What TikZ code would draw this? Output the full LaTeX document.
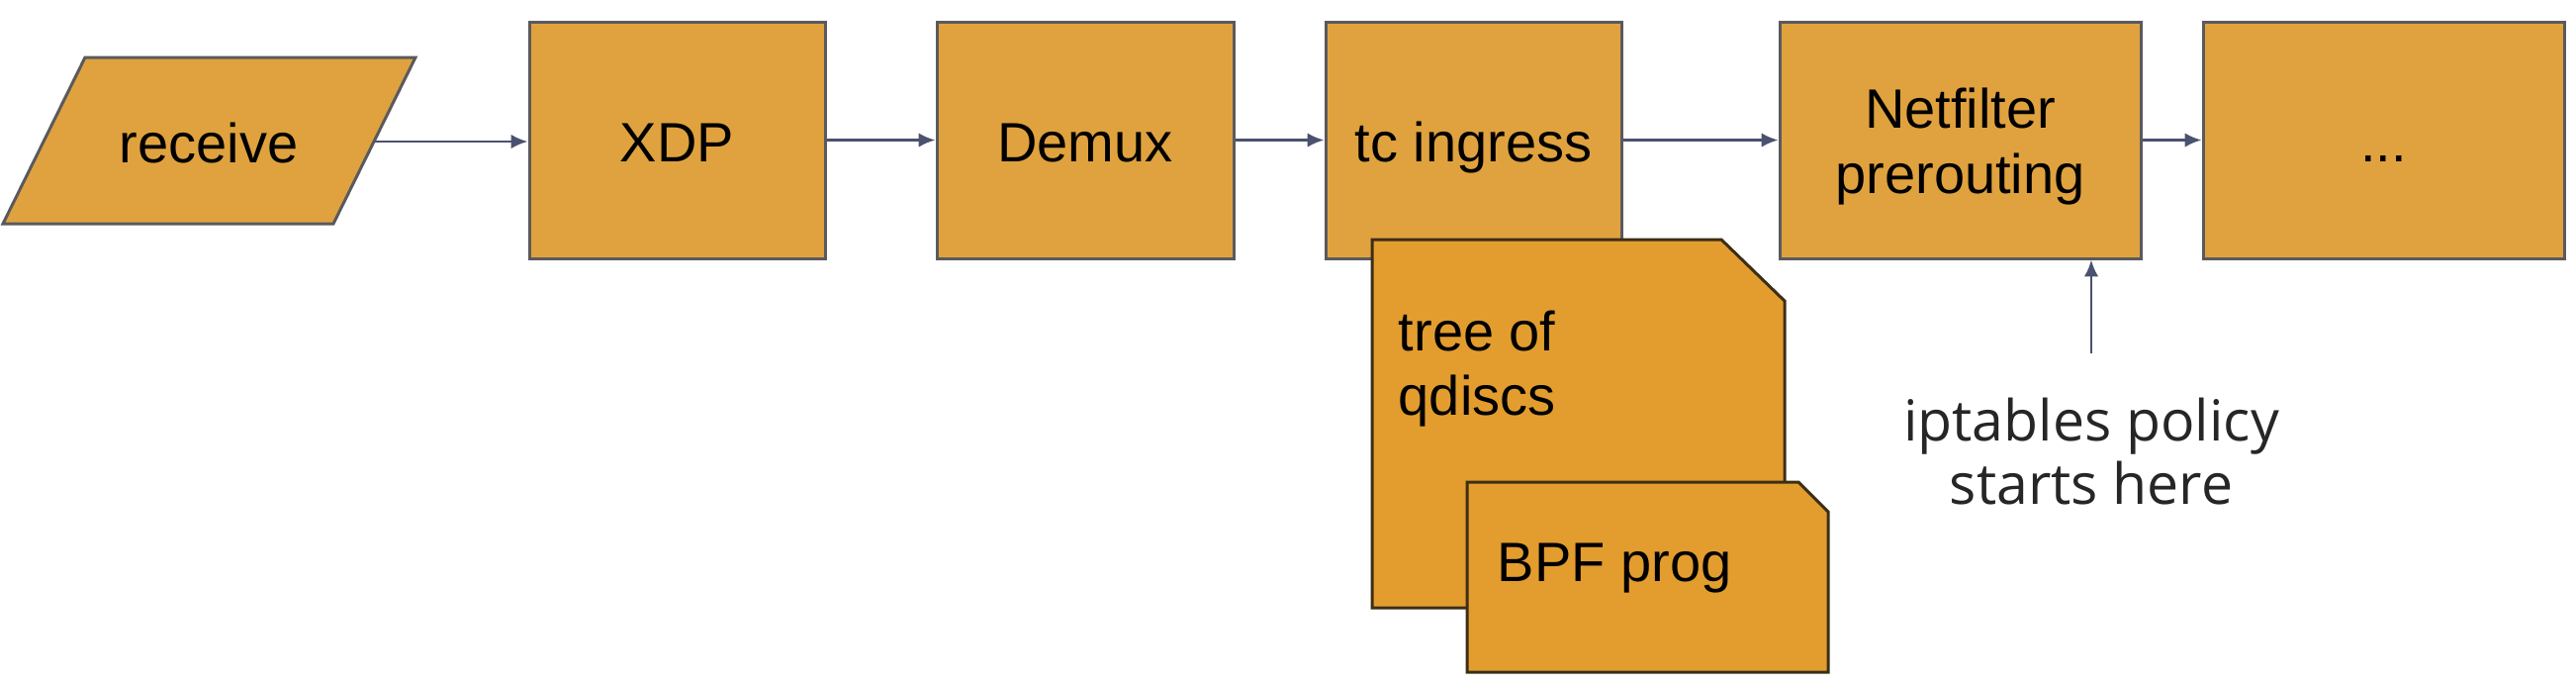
\documentclass[tikz,border=0pt]{standalone}
\usepackage{fontspec}
\setmainfont{Liberation Sans}
\newfontfamily\lblfont{Open Sans}
\usetikzlibrary{arrows.meta}
\definecolor{boxfill}{HTML}{E0A23E}
\definecolor{boxline}{HTML}{5A5A5E}
\definecolor{foldfill}{HTML}{E39D2E}
\definecolor{foldline}{HTML}{3C2E16}
\definecolor{arrowc}{HTML}{4B5270}
\definecolor{lblc}{HTML}{262626}
\tikzset{
  stage/.style={draw=boxline, fill=boxfill, line width=0.75pt, minimum height=59.75pt,
    align=center, font=\fontsize{14}{16.5}\selectfont, inner sep=0pt,
    text height=10.8pt, text depth=0pt},
  stagetext/.style={align=center, font=\fontsize{14}{16.5}\selectfont, inner sep=0pt},
  fold/.style={draw=foldline, fill=foldfill, line width=0.75pt},
  foldtext/.style={align=left, font=\fontsize{14}{16.4}\selectfont, inner sep=0pt, anchor=north west},
  flow/.style={draw=arrowc, line width=0.65pt, -{Latex[length=4.2pt,width=3.6pt]}},
  lbl/.style={font=\lblfont\fontsize{14.3}{15.8}\selectfont, text=lblc, align=center, inner sep=0pt}
}
\begin{document}
\begin{tikzpicture}[x=0.25pt, y=-0.25pt]
\useasboundingbox (0,0) rectangle (2604,690);
% receive parallelogram
\draw[fold, draw=boxline, fill=boxfill] (86,58) -- (420,58) -- (337,226) -- (3,226) -- cycle;
\node[font=\fontsize{14}{16.2}\selectfont, inner sep=0pt, text height=10.8pt, text depth=0pt] (recv) at (211,143) {receive};
\coordinate (recvE) at (379,143);
% stages
\node[stage, minimum width=74.75pt] (xdp) at (684.5,141.5) {XDP};
\node[stage, minimum width=75pt] (demux) at (1097,141.5) {Demux};
\node[stage, minimum width=74.75pt] (tc) at (1489.5,141.5) {tc ingress};
\node[stage, minimum width=91.25pt] (nf) at (1981.5,141.5) {};
\node[stagetext] (nftext) at (1981.5,148.5) {Netfilter\\prerouting};
\node[stage, minimum width=91.25pt] (more) at (2409.5,141.5) {...};
% connectors
\draw[flow] (recvE) -- (recvE -| xdp.west);
\draw[flow] (xdp.east) -- (demux.west);
\draw[flow] (demux.east) -- (tc.west);
\draw[flow] (tc.east) -- (nf.west);
\draw[flow] (nf.east) -- (more.west);
% tree of qdiscs
\draw[fold] (1387,242) -- (1740,242) -- (1804,304) -- (1804,614) -- (1387,614) -- cycle;
\node[foldtext] (tree) at (1413,313) {tree of\\qdiscs};
% BPF prog
\draw[fold] (1483,487) -- (1818,487) -- (1848,517) -- (1848,679) -- (1483,679) -- cycle;
\node[foldtext, anchor=base west] (bpf) at (1513,587) {BPF prog};
% iptables label
\node[lbl] (ipt) at (2114,456) {iptables policy\\starts here};
\coordinate (iptA) at (2114,357);
\draw[flow] (iptA) -- (iptA |- nf.south);
\end{tikzpicture}
\end{document}
